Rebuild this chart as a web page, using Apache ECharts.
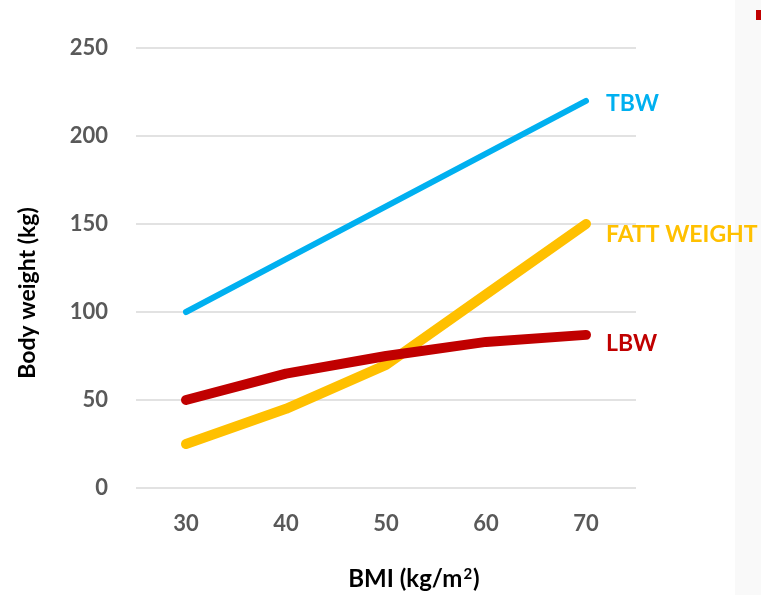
<!DOCTYPE html>
<html>
<head>
<meta charset="utf-8">
<script src="https://cdn.jsdelivr.net/npm/echarts@6/dist/echarts.min.js"></script>
<style>
  html, body { margin: 0; padding: 0; background: #ffffff; }
  #chart { width: 761px; height: 595px; }
</style>
</head>
<body>
<div id="chart"></div>
<script>
// BMI categories on the horizontal axis
const bmi = ['30', '40', '50', '60', '70'];
// Body weight (kg) per BMI
const tbw = [100, 130, 160, 190, 220];
const fattWeight = [25, 45, 70, 110, 150];
const lbw = [50, 65, 75, 83, 87];
// Vertical axis ticks
const yMin = 0, yMax = 250, yStep = 50;

const FONT = 'Lato, "Open Sans", sans-serif';

const chart = echarts.init(document.getElementById('chart'), null, { renderer: 'canvas' });

function lineSeries(name, data, color, width, label, dy) {
  return {
    name: name,
    type: 'line',
    data: data,
    symbol: 'none',
    smooth: false,
    z: width > 8 ? 3 : 2,
    lineStyle: { color: color, width: width, cap: 'round', join: 'round' },
    endLabel: {
      show: true,
      formatter: label,
      color: color,
      fontFamily: FONT,
      fontWeight: 'bold',
      fontSize: 23,
      distance: 20,
      offset: [0, dy]
    }
  };
}

chart.setOption({
  backgroundColor: '#ffffff',
  animation: false,
  grid: { left: 136, right: 125, top: 48, bottom: 107, containLabel: false },
  xAxis: {
    type: 'category',
    data: bmi,
    boundaryGap: true,
    axisLine: { show: false },
    axisTick: { show: false },
    axisLabel: {
      color: '#595959', fontFamily: FONT, fontWeight: 'bold', fontSize: 22, margin: 25
    }
  },
  yAxis: {
    type: 'value',
    min: yMin, max: yMax, interval: yStep,
    axisLine: { show: false },
    axisTick: { show: false },
    splitLine: { lineStyle: { color: '#d9d9d9', width: 1.5 } },
    axisLabel: {
      color: '#595959', fontFamily: FONT, fontWeight: 'bold', fontSize: 22, margin: 28
    }
  },
  series: [
    lineSeries('TBW', tbw, '#00B0F0', 6, 'TBW', 3),
    lineSeries('FATT WEIGHT', fattWeight, '#FFC000', 10, 'FATT WEIGHT', 11),
    lineSeries('LBW', lbw, '#C00000', 10, 'LBW', 9)
  ],
  graphic: [
    { type: 'rect', left: 735, top: 0, shape: { width: 26, height: 595 }, style: { fill: '#f9f9f9' }, z: -1 },
    { type: 'rect', left: 756, top: 10, shape: { width: 5, height: 10 }, style: { fill: '#C00000' } },
    {
      type: 'text', x: 414, y: 579,
      style: {
        text: '{t|BMI (kg/m}{s|2}{t|)}',
        rich: {
          t: { fill: '#000000', fontFamily: FONT, fontWeight: 'bold', fontSize: 24 },
          s: { fill: '#000000', fontFamily: FONT, fontWeight: 'bold', fontSize: 15, padding: [0, 1, 10, 1] }
        },
        align: 'center', verticalAlign: 'middle'
      }
    },
    {
      type: 'text', x: 28, y: 293, rotation: Math.PI / 2,
      style: {
        text: 'Body weight (kg)', fill: '#000000', font: 'bold 23px ' + FONT,
        align: 'center', verticalAlign: 'middle'
      }
    }
  ]
});
</script>
</body>
</html>
